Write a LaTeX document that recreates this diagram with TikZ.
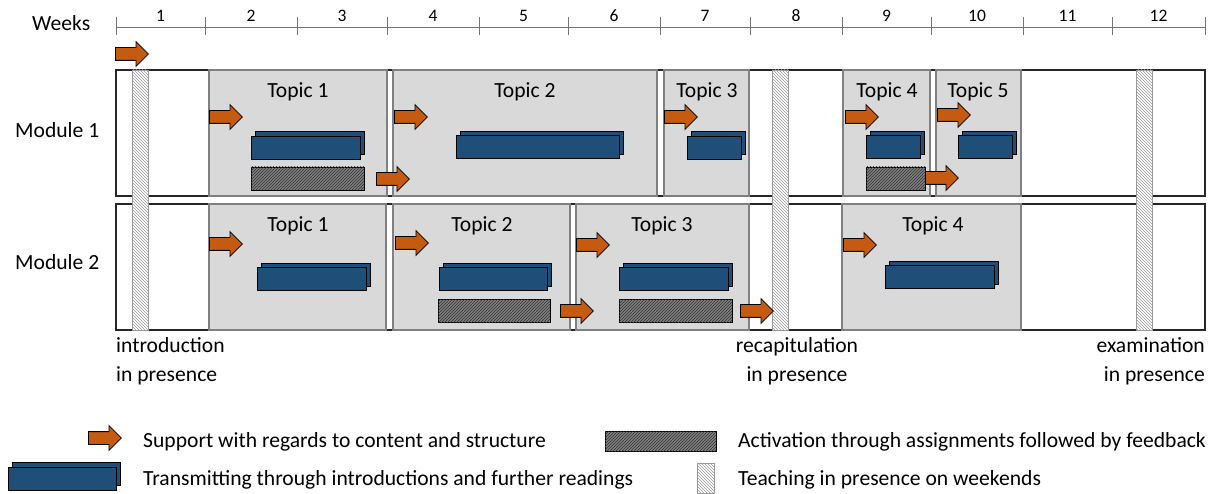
\documentclass[tikz,border=0pt]{standalone}
\usepackage{fontspec}
\setmainfont{Carlito}
\usepackage{tikz}
\usetikzlibrary{shapes.arrows,shadows,patterns,positioning}
\definecolor{suporange}{RGB}{197,90,17}
\definecolor{transblue}{RGB}{31,78,121}
\definecolor{topicgray}{RGB}{217,217,217}
\definecolor{actgray}{RGB}{128,128,128}
\tikzstyle{module}  =[draw=black!85, fill=white, line width=1.2pt]
\tikzstyle{topic}   =[draw=black!50, fill=topicgray, line width=1.3pt]
\tikzstyle{support} =[single arrow, draw=black, fill=suporange,
                      minimum height=33pt, minimum width=24pt,
                      single arrow head extend=6pt, inner xsep=0pt,
                      inner ysep=6pt, line width=0.8pt, anchor=tail]
\tikzstyle{transmit}=[rectangle, draw=black, fill=transblue,
                      minimum height=23pt, inner sep=0pt, line width=0.9pt,
                      copy shadow={shadow xshift=4.5pt, shadow yshift=4.5pt,
                      draw=black, fill=transblue}]
\tikzstyle{activate}=[rectangle, draw=black, fill=actgray,
                      postaction={pattern=north east lines, pattern color=black!80},
                      minimum height=23pt, inner sep=0pt, line width=0.9pt]
\tikzstyle{presence}=[rectangle, draw=black!40, fill=white,
                      postaction={pattern=north west lines, pattern color=black!40},
                      minimum width=16pt, inner sep=0pt, line width=0.7pt]
\tikzstyle{txt}     =[inner sep=0pt, font=\fontsize{21.6}{29}\selectfont]
\tikzstyle{weeknum} =[inner sep=0pt, font=\fontsize{17.5}{20}\selectfont, anchor=base]

\begin{document}
\begin{tikzpicture}[x=1pt, y=-1pt]
    \useasboundingbox (0,0) rectangle (1213,494);
    % time line
    \node[txt, anchor=base west] (weeks) at (32,31) {Weeks};
    \draw[black!55, line width=0.9pt] (116,27) -- (1205,27);
    \foreach \x in {116,205,297,387,479,568,660,750,842,931,1023,1112,1205}
        \draw[black!55, line width=0.9pt] (\x,17) -- (\x,35);
    \foreach \l/\r [count=\w] in {116/205,205/297,297/387,387/479,479/568,568/660,
                                  660/750,750/842,842/931,931/1023,1023/1112,1112/1205}
        \node[weeknum] (w\w) at ({(\l+\r)/2},22) {\w};
    % modules
    \draw[module] (116,70) rectangle (1205,196);
    \draw[module] (116,204) rectangle (1205,330);
    \node[txt, anchor=base west] (mod1) at (15,138) {Module 1};
    \node[txt, anchor=base west] (mod2) at (15,270) {Module 2};
    % topics of module 1
    \draw[topic] (209,70) rectangle (387,196);
    \draw[topic] (393,70) rectangle (657,196);
    \draw[topic] (664,70) rectangle (749,196);
    \draw[topic] (843,70) rectangle (930,196);
    \draw[topic] (936,70) rectangle (1021,196);
    \node[txt, anchor=base] (t11) at (298,98) {Topic 1};
    \node[txt, anchor=base] (t12) at (525,98) {Topic 2};
    \node[txt, anchor=base] (t13) at (707,98) {Topic 3};
    \node[txt, anchor=base] (t14) at (887,98) {Topic 4};
    \node[txt, anchor=base] (t15) at (978,98) {Topic 5};
    % topics of module 2
    \draw[topic] (209,204) rectangle (386,330);
    \draw[topic] (393,204) rectangle (570,330);
    \draw[topic] (576,204) rectangle (749,330);
    \draw[topic] (842,204) rectangle (1021,330);
    \node[txt, anchor=base] (t21) at (298,232) {Topic 1};
    \node[txt, anchor=base] (t22) at (482,232) {Topic 2};
    \node[txt, anchor=base] (t23) at (662,232) {Topic 3};
    \node[txt, anchor=base] (t24) at (933,232) {Topic 4};
    % teaching in presence
    \node[presence, minimum height=260pt] (p1) at (140,200) {};
    \node[presence, minimum height=260pt] (p8) at (780.5,200) {};
    \node[presence, minimum height=260pt] (p12) at (1144.5,200) {};
    \node[txt, anchor=north west, align=left] (intro) at (116,337)
        {introduction\\in presence};
    \node[txt, anchor=north, align=center] (recap) at (797,337)
        {recapitulation\\in presence};
    \node[txt, anchor=north east, align=right] (exam) at (1205,337)
        {examination\\in presence};
    % support
    \node[support] (s0) at (115,54) {};
    \node[support] (s11) at (209,117) {};
    \node[support] (s12) at (394,117) {};
    \node[support] (s1a) at (376,179) {};
    \node[support] (s13) at (664,117) {};
    \node[support] (s14) at (845,117) {};
    \node[support] (s15) at (937,115) {};
    \node[support] (s1b) at (925,178) {};
    \node[support] (s21) at (209,244) {};
    \node[support] (s22) at (395,243) {};
    \node[support] (s2a) at (560,311) {};
    \node[support] (s23) at (576,245) {};
    \node[support] (s2b) at (740,311) {};
    \node[support] (s24) at (843,245) {};
    % transmitting
    \node[transmit, minimum width=109pt] (r11) at (305.5,147.5) {};
    \node[transmit, minimum width=163pt] (r12) at (537.5,147) {};
    \node[transmit, minimum width=54pt] (r13) at (714,147.5) {};
    \node[transmit, minimum width=54pt] (r14) at (893,147) {};
    \node[transmit, minimum width=54pt] (r15) at (985,147) {};
    \node[transmit, minimum width=109pt] (r21) at (311.5,279) {};
    \node[transmit, minimum width=108pt] (r22) at (493,279) {};
    \node[transmit, minimum width=109pt] (r23) at (673.5,279) {};
    \node[transmit, minimum width=109pt] (r24) at (939.5,277) {};
    % activation
    \node[activate, minimum width=113pt] (act11) at (307.5,178.5) {};
    \node[activate, minimum width=59pt] (act14) at (895.5,178.5) {};
    \node[activate, minimum width=112pt] (act22) at (494,311) {};
    \node[activate, minimum width=113pt] (act23) at (675.5,311) {};
    % legend
    \node[support] (lsup) at (88,438) {};
    \node[txt, anchor=base west] (lsuptxt) at (143,447)
        {Support with regards to content and structure};
    \node[transmit, minimum width=108pt] (ltra) at (62,478.5) {};
    \node[txt, anchor=base west] (ltratxt) at (143,485)
        {Transmitting through introductions and further readings};
    \node[activate, minimum width=111pt, minimum height=20pt] (lact) at (660.5,441) {};
    \node[txt, anchor=base west] (lacttxt) at (738,447)
        {Activation through assignments followed by feedback};
    \node[presence, minimum width=17pt, minimum height=30pt] (lpre) at (705.5,478) {};
    \node[txt, anchor=base west] (lpretxt) at (738,485)
        {Teaching in presence on weekends};
\end{tikzpicture}
\end{document}
